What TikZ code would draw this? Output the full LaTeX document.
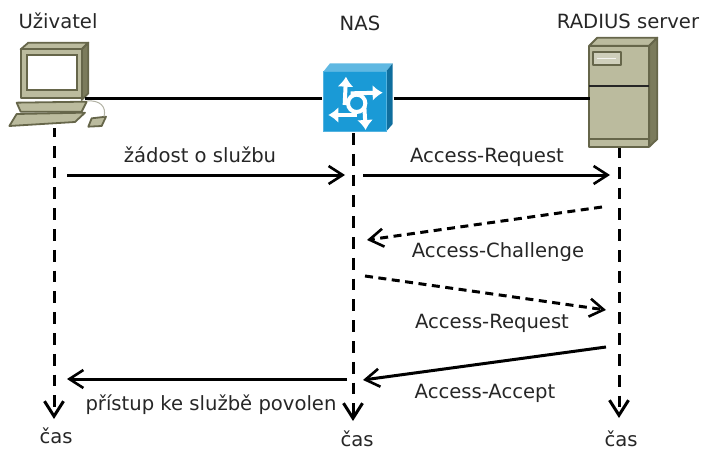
\documentclass[tikz,border=0pt]{standalone}
\usepackage{fontspec}
\setmainfont{DejaVu Sans}
\usetikzlibrary{arrows.meta}
\definecolor{boxlight}{HTML}{BBBB9E}
\definecolor{boxside}{HTML}{7B7B5C}
\definecolor{boxline}{HTML}{66664A}
\definecolor{nasblue}{HTML}{1A9AD6}
\definecolor{nasdark}{HTML}{0F6E9E}
\tikzset{
	lbl/.style={font=\fontsize{19.6}{22}\selectfont, text=black!85, inner sep=0pt, anchor=base},
	msg/.style={line width=3pt, -{Straight Barb[length=14pt,width=18pt,line width=2.6pt]}},
	msgdash/.style={msg, dash pattern=on 8pt off 5.5pt},
	life/.style={line width=3pt, dash pattern=on 11.8pt off 9pt, -{Straight Barb[length=15pt,width=19pt,line width=3pt]}},
	link/.style={line width=3pt},
	skin/.style={draw=boxline, fill=boxlight, line width=1.8pt, line join=round},
	skinside/.style={draw=boxline, fill=boxside, line width=1.8pt, line join=round},
	device/.style={inner sep=0pt, minimum width=#1}
}
\begin{document}
\begin{tikzpicture}[x=1pt, y=-1pt]
	\useasboundingbox (0,0) rectangle (702,452);

	% devices
	\node[device=72, minimum height=88] (user) at (49,87) {};
	\node[device=71, minimum height=72] (nas) at (358,99) {};
	\node[device=62, minimum height=111] (server) at (621,93) {};

	\begin{scope}[shift={(0,0)}, scale=1/3]
		\draw[skin] (62,148) -- (85,128) -- (265,128) -- (245,148) -- cycle;
		\draw[skinside] (245,148) -- (265,128) -- (265,280) -- (245,300) -- cycle;
		\draw[skin] (62,148) rectangle (245,295);
		\draw[draw=boxline, fill=white, line width=1.8pt] (82,166) rectangle (230,270);
		\draw[skin] (50,308) -- (260,305) -- (245,335) -- (62,335) -- cycle;
		\draw[skin] (50,342) -- (255,338) -- (225,366) -- (28,378) -- cycle;
		\draw[skin] (275,355) -- (318,350) -- (305,378) -- (265,380) -- cycle;
		\draw[draw=boxline!50, line width=1pt] (262,303) .. controls (300,300) and (320,320) .. (312,350);
	\end{scope}

	\begin{scope}[shift={(310,50)}, scale=1/3]
		\fill[nasblue!70!white] (40,65) -- (60,40) -- (248,40) -- (228,65) -- cycle;
		\fill[nasdark] (228,65) -- (248,40) -- (248,222) -- (228,245) -- cycle;
		\draw[nasblue!75!white, fill=nasblue, line width=1pt] (40,65) rectangle (228,245);
		\draw[white, line width=4pt] (140,160) circle (26);
		\draw[white, line width=4pt, -{Latex[length=10pt,width=16pt]}] (104,165) -- (108,80);
		\draw[white, line width=4pt, -{Latex[length=10pt,width=16pt]}] (122,130) -- (218,128);
		\draw[white, line width=4pt, -{Latex[length=10pt,width=16pt]}] (140,195) -- (55,195);
		\draw[white, line width=4pt, -{Latex[length=10pt,width=16pt]}] (163,170) -- (167,240);
	\end{scope}

	\begin{scope}[shift={(570,25)}, scale=1/3]
		\draw[skin] (58,62) -- (82,38) -- (262,38) -- (238,62) -- cycle;
		\draw[skinside] (238,62) -- (262,38) -- (262,342) -- (238,365) -- cycle;
		\draw[skin] (58,62) rectangle (238,365);
		\draw[skin, fill=boxlight!70!white] (68,80) rectangle (152,120);
		\draw[white!85!boxlight, line width=1pt] (82,100) -- (138,100);
		\draw[black!85, line width=2.6pt] (58,183) -- (238,183);
		\draw[boxline, line width=1.8pt] (58,343) -- (238,343);
	\end{scope}

	% titles
	\node[lbl] (userlbl) at (58,29) {Uživatel};
	\node[lbl] (naslbl) at (360,31) {NAS};
	\node[lbl] (serverlbl) at (628,29) {RADIUS server};

	% time axes
	\foreach \n/\x/\a/\b/\p in {user/54/128/419/3, nas/353/133/421/0, server/619/148/418/2}
	{
		\coordinate (\n top) at (\x,\a);
		\coordinate (\n end) at (\x,\b);
		\draw[life, dash phase=\p pt] (\n top) -- (\n end);
	}
	\node[lbl] (time1) at (56,443) {čas};
	\node[lbl] (time2) at (357,446.5) {čas};
	\node[lbl] (time3) at (621,446.5) {čas};

	% links
	\draw[link] (user.east |- nas) -- (nas.west);
	\draw[link] (nas.east) -- (server.west |- nas);

	% messages
	\foreach \n/\xa/\ya/\xb/\yb in {a/67/175/345/175, b/363/175/610/175, c/602/207/367/240, d/365/276/606/310, e/606/347/363/380, f/347/379/67/379}
	{
		\coordinate (\n1) at (\xa,\ya);
		\coordinate (\n2) at (\xb,\yb);
	}
	\draw[msg] (a1) -- (a2);
	\draw[msg] (b1) -- (b2);
	\draw[msgdash] (c1) -- (c2);
	\draw[msgdash] (d1) -- (d2);
	\draw[msg] (e1) -- (e2);
	\draw[msg] (f1) -- (f2);

	\node[lbl] (lbla) at (200,162) {žádost o službu};
	\node[lbl] (lblb) at (487,162) {Access-Request};
	\node[lbl] (lblc) at (498,257) {Access-Challenge};
	\node[lbl] (lbld) at (492,328) {Access-Request};
	\node[lbl] (lble) at (485,398) {Access-Accept};
	\node[lbl] (lblf) at (211,410) {přístup ke službě povolen};
\end{tikzpicture}
\end{document}
